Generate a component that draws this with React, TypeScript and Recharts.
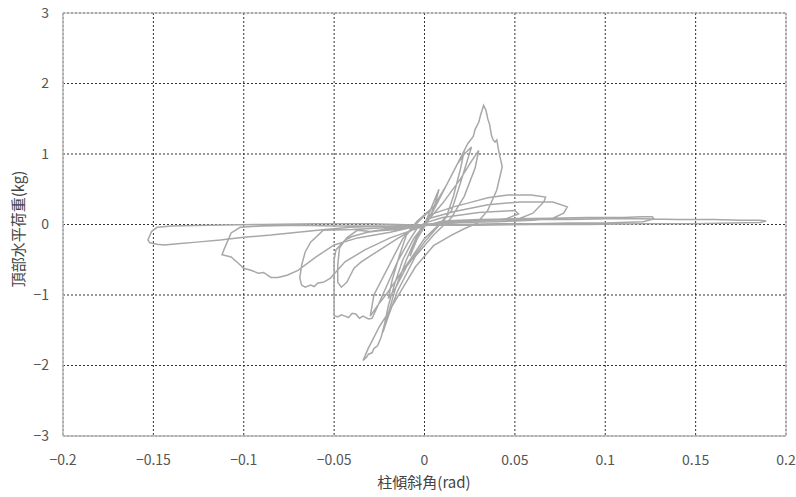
import { ComposedChart, Line, XAxis, YAxis, CartesianGrid, ReferenceArea } from 'recharts'

// 柱傾斜角 (rad) vs 頂部水平荷重 (kg), one loop per array, in loading order
const cycle1: [number, number][] = [
  [0, 0], [0.004, 0.25], [0.008, 0.5], [0.006, 0.3], [0.002, 0.05],
  [-0.004, -0.2], [-0.008, -0.45], [-0.006, -0.3], [-0.002, -0.05], [0, 0],
]

const cycle2: [number, number][] = [
  [0.005, 0.2], [0.01, 0.45], [0.015, 0.7], [0.02, 0.95], [0.022, 1.05], [0.02, 0.8],
  [0.016, 0.4], [0.012, 0.1], [0.005, -0.1], [0, -0.25], [-0.01, -0.6], [-0.016, -0.9],
  [-0.02, -1.05], [-0.018, -0.8], [-0.014, -0.45], [-0.01, -0.15], [-0.003, 0.05],
]

const cycle3: [number, number][] = [
  [0.005, 0.25], [0.012, 0.55], [0.018, 0.85], [0.022, 1.0], [0.026, 1.1], [0.02, 0.6],
  [0.015, 0.2], [0.008, 0], [0, -0.2], [-0.012, -0.65], [-0.02, -0.95], [-0.026, -1.15],
  [-0.03, -1.3], [-0.028, -1.0], [-0.02, -0.6], [-0.012, -0.2], [-0.004, 0.05],
]

const peakCycle: [number, number][] = [
  [0.005, 0.25], [0.012, 0.55], [0.018, 0.85], [0.021, 1.0], [0.024, 1.15], [0.027, 1.25],
  [0.028, 1.35], [0.03, 1.45], [0.031, 1.55], [0.0327, 1.69], [0.034, 1.62], [0.035, 1.5],
  [0.036, 1.42], [0.037, 1.27], [0.038, 1.2], [0.039, 1.17], [0.04, 1.2], [0.041, 1.05],
  [0.042, 0.93], [0.043, 0.82], [0.04, 0.49], [0.035, 0.2], [0.029, 0.02], [0.022, -0.06],
  [0.015, -0.15], [0.005, -0.3], [-0.005, -0.6], [-0.012, -0.9], [-0.02, -1.25],
  [-0.025, -1.45], [-0.028, -1.6], [-0.031, -1.75], [-0.033, -1.87], [-0.034, -1.93],
  [-0.032, -1.88], [-0.031, -1.84], [-0.029, -1.82], [-0.028, -1.76], [-0.026, -1.72],
  [-0.024, -1.6], [-0.022, -1.4], [-0.02, -1.15], [-0.016, -0.8], [-0.012, -0.5],
  [-0.006, -0.2], [0, 0],
]

const cycle4b: [number, number][] = [
  [0.01, 0.3], [0.02, 0.65], [0.026, 0.9], [0.03, 1.05], [0.028, 0.8], [0.022, 0.4],
  [0.015, 0.1], [0.005, -0.15], [-0.005, -0.45], [-0.015, -0.95], [-0.02, -1.3],
  [-0.023, -1.53], [-0.021, -1.35], [-0.016, -0.9], [-0.01, -0.5], [-0.004, -0.15], [0, 0],
]

const cycle5: [number, number][] = [
  [0.002, 0.13], [0.016, 0.25], [0.025, 0.31], [0.035, 0.38], [0.046, 0.42], [0.059, 0.42],
  [0.067, 0.39], [0.066, 0.32], [0.06, 0.16], [0.053, 0.09], [0.04, 0.07], [0.03, 0.06],
  [0.02, 0.05], [0.01, 0.03], [0, 0], [-0.005, -0.04], [-0.015, -0.07], [-0.025, -0.09],
  [-0.0316, -0.11], [-0.04, -0.17], [-0.044, -0.22], [-0.049, -0.36], [-0.05, -0.5],
  [-0.05, -0.75], [-0.05, -1.0], [-0.05, -1.2], [-0.05, -1.29], [-0.048, -1.31],
  [-0.046, -1.28], [-0.044, -1.3], [-0.042, -1.32], [-0.04, -1.26], [-0.038, -1.27],
  [-0.036, -1.33], [-0.034, -1.3], [-0.031, -1.34], [-0.029, -1.33], [-0.024, -1.05],
  [-0.02, -0.82], [-0.015, -0.53], [-0.009, -0.25], [-0.004, -0.05], [0, 0.02],
]

const cycle6: [number, number][] = [
  [0.01, 0.1], [0.03, 0.17], [0.05, 0.2], [0.052, 0.15], [0.045, 0.08], [0.02, 0.04],
  [0, 0], [-0.01, -0.04], [-0.02, -0.06], [-0.03, -0.1], [-0.037, -0.08], [-0.043, -0.19],
  [-0.047, -0.33], [-0.048, -0.58], [-0.048, -0.82], [-0.046, -0.89], [-0.043, -0.82],
  [-0.041, -0.72], [-0.039, -0.62], [-0.035, -0.53], [-0.023, -0.33], [-0.015, -0.2],
  [-0.005, -0.05], [0, 0],
]

const cycle7: [number, number][] = [
  [0.003, 0.09], [0.016, 0.18], [0.035, 0.28], [0.053, 0.32], [0.071, 0.32], [0.079, 0.25],
  [0.077, 0.16], [0.071, 0.09], [0.06, 0.06], [0.04, 0.04], [0.02, 0.03], [0.005, 0],
  [-0.01, -0.03], [-0.025, -0.05], [-0.04, -0.07], [-0.056, -0.08], [-0.063, -0.25],
  [-0.066, -0.39], [-0.068, -0.58], [-0.069, -0.76], [-0.068, -0.86], [-0.066, -0.89],
  [-0.063, -0.86], [-0.061, -0.88], [-0.059, -0.83], [-0.056, -0.82], [-0.052, -0.76],
  [-0.044, -0.53], [-0.033, -0.36], [-0.019, -0.19], [0, -0.02],
]

const cycle8: [number, number][] = [
  [0.01, 0.05], [0.03, 0.07], [0.05, 0.08], [0.07, 0.09], [0.09, 0.1], [0.11, 0.1],
  [0.12, 0.11], [0.126, 0.11], [0.127, 0.08], [0.121, 0.04], [0.1, 0.02], [0.08, 0.02],
  [0.06, 0.01], [0.04, 0.01], [0.02, 0], [0, -0.01], [-0.02, -0.02], [-0.05, -0.02],
  [-0.07, -0.01], [-0.09, -0.02], [-0.102, -0.04], [-0.107, -0.12], [-0.111, -0.36],
  [-0.112, -0.43], [-0.107, -0.46], [-0.103, -0.55], [-0.1, -0.62], [-0.096, -0.65],
  [-0.092, -0.69], [-0.089, -0.68], [-0.085, -0.75], [-0.081, -0.75], [-0.076, -0.72],
  [-0.07, -0.65], [-0.06, -0.46], [-0.05, -0.29], [-0.037, -0.19], [-0.019, -0.11], [0, 0],
]

const cycle9: [number, number][] = [
  [0.02, 0.05], [0.05, 0.07], [0.08, 0.07], [0.1, 0.08], [0.12, 0.08], [0.14, 0.07],
  [0.16, 0.07], [0.175, 0.06], [0.185, 0.06], [0.189, 0.05], [0.186, 0.03], [0.17, 0.02],
  [0.15, 0.01], [0.12, 0.01], [0.09, 0], [0.06, 0], [0.03, -0.01], [0, -0.01],
  [-0.03, 0.01], [-0.06, 0.01], [-0.09, 0], [-0.12, -0.01], [-0.14, -0.02], [-0.148, -0.04],
  [-0.151, -0.1], [-0.153, -0.22], [-0.152, -0.26], [-0.148, -0.28], [-0.144, -0.29],
  [-0.135, -0.27], [-0.126, -0.25], [-0.113, -0.22], [-0.1, -0.18], [-0.085, -0.15],
  [-0.07, -0.11], [-0.055, -0.07], [-0.041, -0.04], [-0.02, -0.02], [0, 0],
]

const xTicks = [-0.2, -0.15, -0.1, -0.05, 0, 0.05, 0.1, 0.15, 0.2]
const yTicks = [-3, -2, -1, 0, 1, 2, 3]

const data = [cycle1, cycle2, cycle3, peakCycle, cycle4b, cycle5, cycle6, cycle7, cycle8, cycle9]
  .flat()
  .map(([x, y]) => ({ x, y }))

const fmt = (v: number) => (v < 0 ? `\u2212${Math.abs(v)}` : `${v}`)
const font = '"Noto Sans CJK JP", sans-serif'

export default function App() {
  return (
    <div style={{ position: 'absolute', left: 0, top: 0 }}>
      <ComposedChart width={796} height={497} data={data} margin={{ top: 13, right: 10, bottom: 0, left: 0 }}>
        <CartesianGrid stroke="#333" strokeDasharray="2 2" />
        <XAxis
          type="number"
          dataKey="x"
          domain={[-0.2, 0.2]}
          ticks={xTicks}
          tickFormatter={fmt}
          height={61}
          stroke="#b8b8b8"
          tickLine={false}
          tickSize={0}
          tickMargin={19}
          tick={{ fill: '#555', fontSize: 14, fontFamily: font }}
          label={{
            content: () => (
              <text x={424} y={488} textAnchor="middle" fill="#444" fontSize={15} fontFamily={font}>
                柱傾斜角(rad)
              </text>
            ),
          }}
        />
        <YAxis
          type="number"
          domain={[-3, 3]}
          ticks={yTicks}
          tickFormatter={fmt}
          width={63}
          stroke="#b8b8b8"
          tickLine={false}
          tickSize={0}
          tickMargin={14}
          tick={{ fill: '#555', fontSize: 14, fontFamily: font }}
          label={{
            content: () => (
              <text
                x={17}
                y={229}
                transform="rotate(-90 17 229)"
                textAnchor="middle"
                dominantBaseline="central"
                fill="#444"
                fontSize={15}
                fontFamily={font}
              >
                頂部水平荷重(kg)
              </text>
            ),
          }}
        />
        <ReferenceArea x1={-0.2} x2={0.2} y1={-3} y2={3} fill="none" stroke="#b8b8b8" />
        <Line
          type="linear"
          dataKey="y"
          stroke="#a8a8a8"
          strokeWidth={1.5}
          dot={false}
          isAnimationActive={false}
        />
      </ComposedChart>
    </div>
  )
}
